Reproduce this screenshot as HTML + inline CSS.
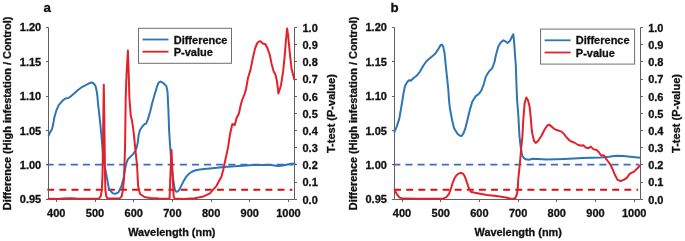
<!DOCTYPE html>
<html><head><meta charset="utf-8"><style>
html,body{margin:0;padding:0;background:#fff;width:685px;height:241px;overflow:hidden}
svg{display:block;will-change:transform}
text{font-family:"Liberation Sans",sans-serif;font-weight:bold;font-size:11px;fill:#111;stroke:#111;stroke-width:0.3px}
</style></head><body>
<svg width="685" height="241" viewBox="0 0 685 241">
<rect width="685" height="241" fill="#fff"/>
<line x1="46.50" y1="164.6" x2="293.4" y2="164.6" stroke="#4169c8" stroke-width="1.8" stroke-dasharray="7.1 5.02"/>
<line x1="47.30" y1="189.8" x2="292.4" y2="189.8" stroke="#d90f16" stroke-width="2" stroke-dasharray="6.9 5.22"/>
<path d="M48.5,27.5 V199.5 H294.5 V27.5" fill="none" stroke="#5f5f5f" stroke-width="1"/>
<path d="M46.0,199.5H48.5M46.0,164.5H48.5M46.0,130.5H48.5M46.0,96.5H48.5M46.0,61.5H48.5M46.0,27.5H48.5M294.5,199.5H297.0M294.5,182.5H297.0M294.5,164.5H297.0M294.5,147.5H297.0M294.5,130.5H297.0M294.5,113.5H297.0M294.5,96.5H297.0M294.5,79.5H297.0M294.5,61.5H297.0M294.5,44.5H297.0M294.5,27.5H297.0M56.5,199.5V202.0M95.5,199.5V202.0M133.5,199.5V202.0M172.5,199.5V202.0M211.5,199.5V202.0M249.5,199.5V202.0M288.5,199.5V202.0" fill="none" stroke="#5f5f5f" stroke-width="1"/>
<polyline points="48.7,135.5 50.1,132.1 52.0,129.3 53.1,124.6 54.4,117.2 56.3,110.7 58.7,105.1 61.9,101.3 64.7,98.9 66.5,98.2 68.4,98.0 71.2,96.1 74.1,93.4 78.3,89.7 82.4,86.8 86.6,84.7 89.1,83.3 91.5,82.5 93.6,83.3 95.3,85.6 96.5,90.1 97.4,96.0 98.1,104.3 99.2,113.7 100.2,123.0 101.1,132.3 101.9,141.0 102.8,152.0 103.7,162.0 105.7,171.2 108.8,188.1 111.0,191.5 113.1,193.4 115.2,193.9 118.4,192.4 121.5,186.0 122.8,181.0 123.7,177.5 125.4,167.5 126.3,163.3 127.9,159.2 129.7,157.6 133.1,154.1 135.4,150.7 136.5,148.0 137.7,143.0 138.7,134.7 140.0,130.0 141.9,127.2 144.5,124.1 146.0,123.8 147.8,119.6 150.1,111.8 152.3,102.8 154.5,95.0 156.8,87.2 158.6,82.7 160.6,81.6 163.5,83.2 166.4,86.1 167.5,91.7 168.4,109.6 169.1,130.0 169.7,140.0 170.6,152.2 171.6,166.0 173.2,179.4 174.7,189.1 175.5,191.2 176.7,191.8 178.0,191.2 179.2,189.9 181.5,185.4 183.7,180.9 185.9,177.2 188.9,173.8 191.9,171.7 195.7,170.2 200.0,169.4 204.0,169.0 209.6,168.4 217.0,167.7 224.2,167.1 231.5,166.4 239.0,165.9 246.1,165.4 253.0,165.1 260.7,165.0 270.9,165.1 274.5,165.6 278.2,166.1 281.0,165.8 284.0,165.3 289.9,164.1 294.5,163.5" fill="none" stroke="#2e75b6" stroke-width="2" stroke-linejoin="round" stroke-linecap="round"/>
<polyline points="48.6,198.7 58.0,198.9 63.0,198.5 70.0,198.3 76.0,198.6 90.0,198.8 99.1,198.5 100.8,196.0 101.8,190.0 102.5,175.0 102.9,150.0 103.3,120.0 103.8,84.8 104.3,120.0 104.7,150.0 105.0,175.0 105.4,190.0 106.2,196.0 107.5,198.6 119.4,198.6 121.7,196.4 122.8,190.7 124.0,179.0 125.1,145.0 125.7,98.0 126.5,75.0 127.9,50.5 128.6,70.0 129.4,98.0 130.7,115.3 132.2,121.8 133.7,132.6 135.4,150.0 136.5,160.0 137.2,167.8 138.1,186.0 140.0,194.0 144.5,197.0 150.0,198.0 159.0,198.6 168.3,198.8 169.6,198.3 170.4,175.0 171.5,150.0 172.6,175.0 173.6,196.0 174.5,198.5 183.3,199.0 194.9,198.3 203.2,196.6 209.9,193.3 216.5,185.8 221.5,176.6 223.2,170.0 225.7,158.3 228.2,146.6 229.9,135.0 232.3,124.1 234.8,125.0 236.5,118.3 239.0,113.3 240.7,105.0 242.0,100.5 244.8,93.5 246.0,89.0 248.0,78.0 250.4,70.1 252.9,57.7 255.1,48.3 257.3,43.0 259.0,41.5 260.4,41.2 262.9,43.5 265.4,44.3 267.5,48.3 269.7,54.5 271.6,63.9 273.8,71.7 275.3,74.1 276.9,81.0 277.7,87.0 278.4,93.4 280.9,85.7 283.1,71.7 284.7,56.1 285.8,42.0 287.1,28.5 288.2,36.0 289.5,49.9 291.5,68.5 294.3,79.4" fill="none" stroke="#e3212b" stroke-width="2" stroke-linejoin="round" stroke-linecap="round"/>
<text x="41.2" y="203.1" text-anchor="end">0.95</text>
<text x="41.2" y="168.8" text-anchor="end">1.00</text>
<text x="41.2" y="134.5" text-anchor="end">1.05</text>
<text x="41.2" y="100.1" text-anchor="end">1.10</text>
<text x="41.2" y="65.8" text-anchor="end">1.15</text>
<text x="41.2" y="31.4" text-anchor="end">1.20</text>
<text x="302.5" y="203.6">0.0</text>
<text x="302.5" y="186.4">0.1</text>
<text x="302.5" y="169.3">0.2</text>
<text x="302.5" y="152.1">0.3</text>
<text x="302.5" y="134.9">0.4</text>
<text x="302.5" y="117.8">0.5</text>
<text x="302.5" y="100.6">0.6</text>
<text x="302.5" y="83.4">0.7</text>
<text x="302.5" y="66.2">0.8</text>
<text x="302.5" y="49.1">0.9</text>
<text x="302.5" y="31.9">1.0</text>
<text x="56.3" y="217" text-anchor="middle">400</text>
<text x="95.0" y="217" text-anchor="middle">500</text>
<text x="133.7" y="217" text-anchor="middle">600</text>
<text x="172.4" y="217" text-anchor="middle">700</text>
<text x="211.1" y="217" text-anchor="middle">800</text>
<text x="249.8" y="217" text-anchor="middle">900</text>
<text x="288.5" y="217" text-anchor="middle">1000</text>
<text x="171.8" y="235.7" text-anchor="middle" style="font-size:10.9px">Wavelength (nm)</text>
<text transform="translate(10.9,113.4) rotate(-90)" text-anchor="middle" style="font-size:10.9px">Difference (High infestation / Control)</text>
<text transform="translate(334.6,113.6) rotate(-90)" text-anchor="middle" style="font-size:11px">T-test (P-value)</text>
<text x="43.5" y="12" style="font-size:13.3px">a</text>
<rect x="138.5" y="28.3" width="93" height="35" fill="#fff" stroke="#6e6e6e" stroke-width="1"/>
<line x1="142.5" y1="39.5" x2="168.5" y2="39.5" stroke="#2e75b6" stroke-width="1.8"/>
<line x1="142.5" y1="51.7" x2="168.5" y2="51.7" stroke="#e3212b" stroke-width="1.8"/>
<text x="173.7" y="43.5">Difference</text>
<text x="173.7" y="55.9">P-value</text>
<line x1="393.30" y1="164.6" x2="639.1" y2="164.6" stroke="#4169c8" stroke-width="1.8" stroke-dasharray="7.1 5.02"/>
<line x1="394.10" y1="189.8" x2="638.1" y2="189.8" stroke="#d90f16" stroke-width="2" stroke-dasharray="6.9 5.22"/>
<path d="M394.5,27.5 V199.5 H640.5 V27.5" fill="none" stroke="#5f5f5f" stroke-width="1"/>
<path d="M392.0,199.5H394.5M392.0,164.5H394.5M392.0,130.5H394.5M392.0,96.5H394.5M392.0,61.5H394.5M392.0,27.5H394.5M640.5,199.5H643.0M640.5,182.5H643.0M640.5,164.5H643.0M640.5,147.5H643.0M640.5,130.5H643.0M640.5,113.5H643.0M640.5,96.5H643.0M640.5,79.5H643.0M640.5,61.5H643.0M640.5,44.5H643.0M640.5,27.5H643.0M402.5,199.5V202.0M440.5,199.5V202.0M479.5,199.5V202.0M518.5,199.5V202.0M556.5,199.5V202.0M595.5,199.5V202.0M634.5,199.5V202.0" fill="none" stroke="#5f5f5f" stroke-width="1"/>
<polyline points="394.5,131.8 396.7,126.6 399.2,119.1 400.8,110.0 402.3,101.0 403.5,93.3 405.0,86.0 407.5,81.6 409.1,80.3 410.8,80.8 413.3,78.3 416.6,75.8 420.0,71.6 423.3,65.8 426.6,61.0 429.9,58.3 434.9,54.1 438.3,49.1 440.7,45.0 441.9,44.6 443.2,46.6 444.6,53.3 445.5,63.0 446.6,73.3 448.2,88.3 449.0,100.0 449.9,108.3 452.4,121.6 454.1,128.3 457.5,133.8 459.5,135.5 461.8,135.9 463.5,133.3 465.3,128.4 467.6,119.2 469.8,110.1 472.1,102.1 475.5,96.4 479.0,93.7 481.3,90.7 483.5,85.0 485.9,76.6 489.0,71.4 492.2,68.3 494.5,62.0 495.8,55.5 498.3,46.6 500.7,42.5 503.3,40.3 505.8,41.6 507.5,43.0 510.0,40.8 512.5,35.8 513.3,34.2 514.1,41.6 515.0,55.0 515.8,65.0 516.3,80.0 517.1,100.0 518.3,115.0 519.5,136.6 520.8,148.0 522.2,155.5 524.0,158.2 525.8,159.3 528.9,159.8 532.5,158.7 537.8,158.9 546.7,159.6 564.6,158.9 582.4,158.0 600.2,157.5 609.1,156.8 614.0,156.1 618.0,155.7 623.4,155.9 630.5,156.8 640.0,157.8" fill="none" stroke="#2e75b6" stroke-width="2" stroke-linejoin="round" stroke-linecap="round"/>
<polyline points="394.7,189.5 396.7,194.2 399.6,197.6 403.4,198.6 418.0,198.8 440.0,198.8 443.2,198.4 446.1,197.4 448.9,194.2 450.8,189.0 452.7,182.8 454.5,178.3 456.5,175.2 458.8,173.5 461.3,172.9 462.8,173.6 464.1,175.2 465.6,178.5 467.0,182.8 468.4,186.8 469.8,190.4 471.0,191.7 472.6,192.3 477.4,193.2 481.4,194.0 486.9,195.1 496.4,196.0 505.9,197.6 510.0,198.5 513.4,198.9 515.3,198.0 516.3,196.0 517.0,193.6 517.8,188.0 518.3,178.7 519.3,169.3 520.2,160.0 521.0,150.0 522.4,136.6 523.2,121.0 524.6,103.3 526.3,97.5 527.9,100.0 529.6,106.6 530.8,118.0 531.6,128.3 532.4,134.0 534.0,140.8 535.7,143.0 538.2,140.8 541.5,135.8 544.9,129.0 547.4,125.4 549.1,124.6 551.6,126.6 554.1,128.8 557.5,130.3 561.6,131.6 564.1,134.1 566.6,137.5 570.0,140.8 574.1,142.5 578.3,145.0 581.6,145.8 583.3,145.3 585.8,147.5 588.3,148.3 590.8,146.6 593.3,149.1 596.6,150.0 599.1,152.4 600.7,155.0 604.1,155.5 605.7,158.3 607.4,160.5 610.2,164.3 612.3,168.5 614.4,173.7 617.5,179.9 620.6,181.0 623.7,179.9 626.8,177.8 629.9,173.7 634.1,171.6 637.2,168.5 640.0,165.5" fill="none" stroke="#e3212b" stroke-width="2" stroke-linejoin="round" stroke-linecap="round"/>
<text x="386.9" y="203.1" text-anchor="end">0.95</text>
<text x="386.9" y="168.8" text-anchor="end">1.00</text>
<text x="386.9" y="134.5" text-anchor="end">1.05</text>
<text x="386.9" y="100.1" text-anchor="end">1.10</text>
<text x="386.9" y="65.8" text-anchor="end">1.15</text>
<text x="386.9" y="31.4" text-anchor="end">1.20</text>
<text x="648.2" y="203.6">0.0</text>
<text x="648.2" y="186.4">0.1</text>
<text x="648.2" y="169.3">0.2</text>
<text x="648.2" y="152.1">0.3</text>
<text x="648.2" y="134.9">0.4</text>
<text x="648.2" y="117.8">0.5</text>
<text x="648.2" y="100.6">0.6</text>
<text x="648.2" y="83.4">0.7</text>
<text x="648.2" y="66.2">0.8</text>
<text x="648.2" y="49.1">0.9</text>
<text x="648.2" y="31.9">1.0</text>
<text x="402.0" y="217" text-anchor="middle">400</text>
<text x="440.7" y="217" text-anchor="middle">500</text>
<text x="479.4" y="217" text-anchor="middle">600</text>
<text x="518.1" y="217" text-anchor="middle">700</text>
<text x="556.8" y="217" text-anchor="middle">800</text>
<text x="595.5" y="217" text-anchor="middle">900</text>
<text x="634.2" y="217" text-anchor="middle">1000</text>
<text x="518.2" y="235.7" text-anchor="middle" style="font-size:10.9px">Wavelength (nm)</text>
<text transform="translate(356.6,113.4) rotate(-90)" text-anchor="middle" style="font-size:10.9px">Difference (High infestation / Control)</text>
<text transform="translate(680.1,113.5) rotate(-90)" text-anchor="middle" style="font-size:11px">T-test (P-value)</text>
<text x="390.4" y="12" style="font-size:13.3px">b</text>
<rect x="540.6" y="29.1" width="94" height="35" fill="#fff" stroke="#6e6e6e" stroke-width="1"/>
<line x1="544.6" y1="40.3" x2="570.6" y2="40.3" stroke="#2e75b6" stroke-width="1.8"/>
<line x1="544.6" y1="52.5" x2="570.6" y2="52.5" stroke="#e3212b" stroke-width="1.8"/>
<text x="575.8" y="44.3">Difference</text>
<text x="575.8" y="56.7">P-value</text>
</svg>
</body></html>
